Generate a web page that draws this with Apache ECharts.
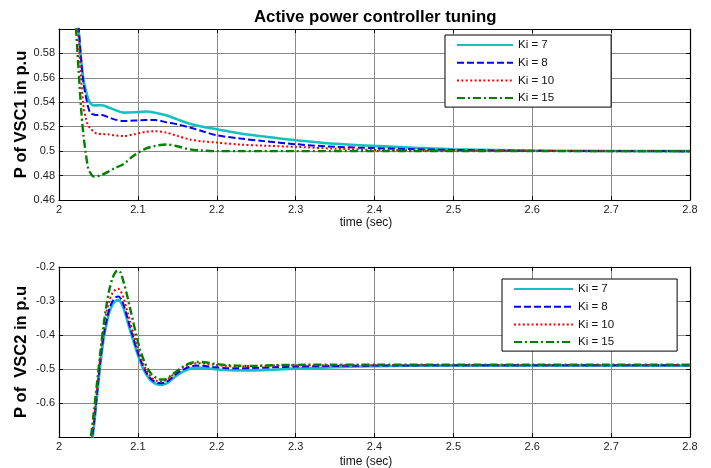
<!DOCTYPE html>
<html>
<head>
<meta charset="utf-8">
<script src="https://cdn.jsdelivr.net/npm/echarts@6/dist/echarts.min.js"></script>
<style>
html,body{margin:0;padding:0;background:#fff;}
#chart{width:711px;height:468px;}
</style>
</head>
<body>
<div id="chart"></div>
<script>
// ---------- data ----------
var seriesNames = ['Ki = 7', 'Ki = 8', 'Ki = 10', 'Ki = 15'];
var xTicks = [2, 2.1, 2.2, 2.3, 2.4, 2.5, 2.6, 2.7, 2.8];

// Top plot: P of VSC1
var tTop = [2.018, 2.022, 2.025, 2.028, 2.031, 2.034, 2.037, 2.040, 2.044, 2.048, 2.054, 2.062, 2.070, 2.082, 2.095, 2.110, 2.122, 2.136, 2.150, 2.166, 2.182, 2.200, 2.230, 2.260, 2.300, 2.350, 2.400, 2.450, 2.500, 2.600, 2.700, 2.800];
var top_ki7  = [0.66, 0.62, 0.598, 0.575, 0.559, 0.550, 0.5428, 0.539, 0.5374, 0.5375, 0.5376, 0.536, 0.534, 0.5315, 0.5318, 0.5325, 0.5315, 0.5293, 0.526, 0.5225, 0.520, 0.518, 0.5144, 0.512, 0.5089, 0.506, 0.5043, 0.5028, 0.5015, 0.5005, 0.5001, 0.5];
var top_ki8  = [0.66, 0.62, 0.600, 0.575, 0.556, 0.545, 0.536, 0.531, 0.5300, 0.5295, 0.5296, 0.528, 0.526, 0.5247, 0.525, 0.5254, 0.5255, 0.5236, 0.522, 0.5193, 0.5163, 0.5130, 0.5103, 0.5082, 0.5057, 0.5035, 0.5025, 0.5016, 0.501, 0.5003, 0.5001, 0.5];
var top_ki10 = [0.66, 0.615, 0.590, 0.560, 0.537, 0.527, 0.521, 0.5185, 0.516, 0.5144, 0.514, 0.5138, 0.513, 0.5124, 0.5138, 0.5158, 0.5163, 0.5152, 0.5125, 0.5095, 0.508, 0.507, 0.5054, 0.5045, 0.5035, 0.502, 0.501, 0.5006, 0.5003, 0.5001, 0.5, 0.5];
var top_ki15 = [0.64, 0.596, 0.565, 0.535, 0.513, 0.498, 0.4859, 0.482, 0.4791, 0.4793, 0.4805, 0.483, 0.4859, 0.4895, 0.4965, 0.502, 0.5043, 0.5055, 0.5040, 0.5014, 0.5005, 0.5, 0.5, 0.5, 0.5, 0.5, 0.5, 0.5, 0.5, 0.5, 0.5, 0.5];

// Bottom plot: P of VSC2
var tBot = [2.036, 2.040, 2.044, 2.048, 2.052, 2.056, 2.060, 2.064, 2.068, 2.072, 2.075, 2.078, 2.082, 2.086, 2.090, 2.094, 2.098, 2.103, 2.108, 2.113, 2.118, 2.124, 2.130, 2.136, 2.142, 2.150, 2.158, 2.166, 2.175, 2.185, 2.195, 2.210, 2.225, 2.245, 2.270, 2.300, 2.350, 2.400, 2.500, 2.600, 2.700, 2.800];
var bot_ki7  = [-0.78, -0.74, -0.675, -0.585, -0.495, -0.42, -0.37, -0.332, -0.31, -0.299, -0.297, -0.302, -0.322, -0.352, -0.385, -0.415, -0.445, -0.478, -0.505, -0.524, -0.537, -0.545, -0.547, -0.543, -0.533, -0.518, -0.507, -0.499, -0.496, -0.497, -0.500, -0.503, -0.504, -0.504, -0.502, -0.499, -0.495, -0.492, -0.490, -0.490, -0.490, -0.490];
var bot_ki8  = [-0.78, -0.735, -0.665, -0.575, -0.485, -0.41, -0.36, -0.322, -0.30, -0.289, -0.287, -0.292, -0.312, -0.343, -0.376, -0.407, -0.437, -0.471, -0.499, -0.519, -0.532, -0.540, -0.542, -0.538, -0.528, -0.512, -0.501, -0.493, -0.490, -0.491, -0.494, -0.497, -0.498, -0.497, -0.495, -0.493, -0.491, -0.490, -0.489, -0.489, -0.489, -0.489];
var bot_ki10 = [-0.78, -0.73, -0.655, -0.562, -0.47, -0.39, -0.335, -0.298, -0.276, -0.266, -0.264, -0.270, -0.292, -0.325, -0.36, -0.393, -0.425, -0.461, -0.491, -0.512, -0.526, -0.535, -0.537, -0.533, -0.522, -0.506, -0.494, -0.486, -0.483, -0.484, -0.487, -0.491, -0.492, -0.491, -0.490, -0.489, -0.489, -0.489, -0.489, -0.489, -0.489, -0.489];
var bot_ki15 = [-0.79, -0.71, -0.63, -0.545, -0.46, -0.38, -0.315, -0.265, -0.232, -0.214, -0.2105, -0.216, -0.245, -0.28, -0.32, -0.36, -0.40, -0.445, -0.477, -0.501, -0.517, -0.527, -0.531, -0.530, -0.519, -0.505, -0.492, -0.483, -0.479, -0.480, -0.484, -0.488, -0.490, -0.491, -0.489, -0.488, -0.487, -0.487, -0.487, -0.487, -0.487, -0.487];

// ---------- styles ----------
var FONT = 'Arial, "Liberation Sans", sans-serif';
var styles = [
  {color: '#17C0C0', width: 2.6, type: 'solid'},
  {color: '#0000FF', width: 2.0, type: [7, 3]},
  {color: '#FF0000', width: 2.0, type: [2, 2.4]},
  {color: '#008000', width: 2.4, type: [8, 3, 2, 3]}
];

function zip(t, v) { return t.map(function (x, i) { return [x, v[i]]; }); }

function mkSeries(name, t, v, idx, s) {
  return {
    name: name, type: 'line', xAxisIndex: idx, yAxisIndex: idx,
    data: zip(t, v), symbol: 'none', smooth: 0.3, clip: true,
    lineStyle: {color: s.color, width: s.width, type: s.type},
    itemStyle: {color: s.color},
    animation: false, z: 3
  };
}

var topVals = [top_ki7, top_ki8, top_ki10, top_ki15];
var botVals = [bot_ki7, bot_ki8, bot_ki10, bot_ki15];
var series = [];
seriesNames.forEach(function (n, i) { series.push(mkSeries(n, tTop, topVals[i], 0, styles[i])); });
seriesNames.forEach(function (n, i) { series.push(mkSeries(n, tBot, botVals[i], 1, styles[i])); });

function fmtNum(v, d) { return String(parseFloat(v.toFixed(d))); }

function mainX(grid, gap) {
  return {
    type: 'value', gridIndex: grid, min: 2, max: 2.8, interval: 0.1, position: 'bottom',
    name: 'time (sec)', nameLocation: 'middle', nameGap: gap, nameMoveOverlap: false,
    nameTextStyle: {fontFamily: FONT, fontSize: 12, color: '#111', padding: [0, 17, 0, 0]},
    axisLine: {show: true, lineStyle: {color: '#000', width: 1.2}},
    axisTick: {show: true, inside: true, length: 4, lineStyle: {color: '#000'}},
    axisLabel: {fontFamily: FONT, fontSize: 11, color: '#222', margin: 4,
      formatter: function (v) { return fmtNum(v, 1); }},
    splitLine: {show: true, lineStyle: {color: '#8a8a8a', width: 1}}
  };
}
function secX(grid) {
  return {
    type: 'value', gridIndex: grid, min: 2, max: 2.8, interval: 0.1, position: 'top',
    axisLine: {show: true, lineStyle: {color: '#000', width: 1.2}},
    axisTick: {show: true, inside: true, length: 4, lineStyle: {color: '#000'}},
    axisLabel: {show: false}, splitLine: {show: false}
  };
}
function mainY(grid, min, max, interval, dec, hideVal, name) {
  return {
    type: 'value', gridIndex: grid, min: min, max: max, interval: interval, position: 'left',
    name: name, nameLocation: 'middle', nameGap: 29, nameRotate: 90, nameMoveOverlap: false,
    nameTextStyle: {fontFamily: FONT, fontSize: 16.5, fontWeight: 'bold', color: '#000'},
    axisLine: {show: true, lineStyle: {color: '#000', width: 1.2}},
    axisTick: {show: true, inside: true, length: 4, lineStyle: {color: '#000'}},
    axisLabel: {fontFamily: FONT, fontSize: 11, color: '#222', margin: 4,
      formatter: function (v) { return Math.abs(v - hideVal) < 1e-9 ? '' : fmtNum(v, dec); }},
    splitLine: {show: true, lineStyle: {color: '#8a8a8a', width: 1}}
  };
}
function secY(grid, min, max, interval) {
  return {
    type: 'value', gridIndex: grid, min: min, max: max, interval: interval, position: 'right',
    axisLine: {show: true, lineStyle: {color: '#000', width: 1.2}},
    axisTick: {show: true, inside: true, length: 4, lineStyle: {color: '#000'}},
    axisLabel: {show: false}, splitLine: {show: false}
  };
}

function mkLegend(left, top, itemWidth, padRight) {
  return {
    orient: 'vertical', left: left, top: top,
    data: seriesNames,
    itemWidth: itemWidth, itemHeight: 10, itemGap: 3.7,
    padding: [3, padRight, 2, 11],
    itemStyle: {opacity: 0},
    backgroundColor: '#fff', borderColor: '#000', borderWidth: 1, borderRadius: 0,
    textStyle: {fontFamily: FONT, fontSize: 11.5, color: '#111', lineHeight: 14},
    selectedMode: false, z: 10
  };
}

var chart = echarts.init(document.getElementById('chart'), null, {renderer: 'canvas'});
chart.setOption({
  backgroundColor: '#fff',
  animation: false,
  title: {
    text: 'Active power controller tuning', left: 249, top: 4,
    textStyle: {fontFamily: FONT, fontSize: 16.8, fontWeight: 'bold', color: '#000'}
  },
  grid: [
    {left: 59, top: 29, width: 631, height: 171, show: false, containLabel: false, outerBoundsMode: 'none'},
    {left: 59, top: 267, width: 631, height: 170, show: false, containLabel: false, outerBoundsMode: 'none'}
  ],
  legend: [
    mkLegend(445, 35, 56, 57),
    mkLegend(502, 279, 59, 63)
  ],
  xAxis: [mainX(0, 17), mainX(1, 19), secX(0), secX(1)],
  yAxis: [
    mainY(0, 0.46, 0.6, 0.02, 2, 0.6, 'P of VSC1 in p.u'),
    mainY(1, -0.7, -0.2, 0.1, 1, -0.7, 'P of  VSC2 in p.u'),
    secY(0, 0.46, 0.6, 0.02),
    secY(1, -0.7, -0.2, 0.1)
  ],
  series: series
});
</script>
</body>
</html>
